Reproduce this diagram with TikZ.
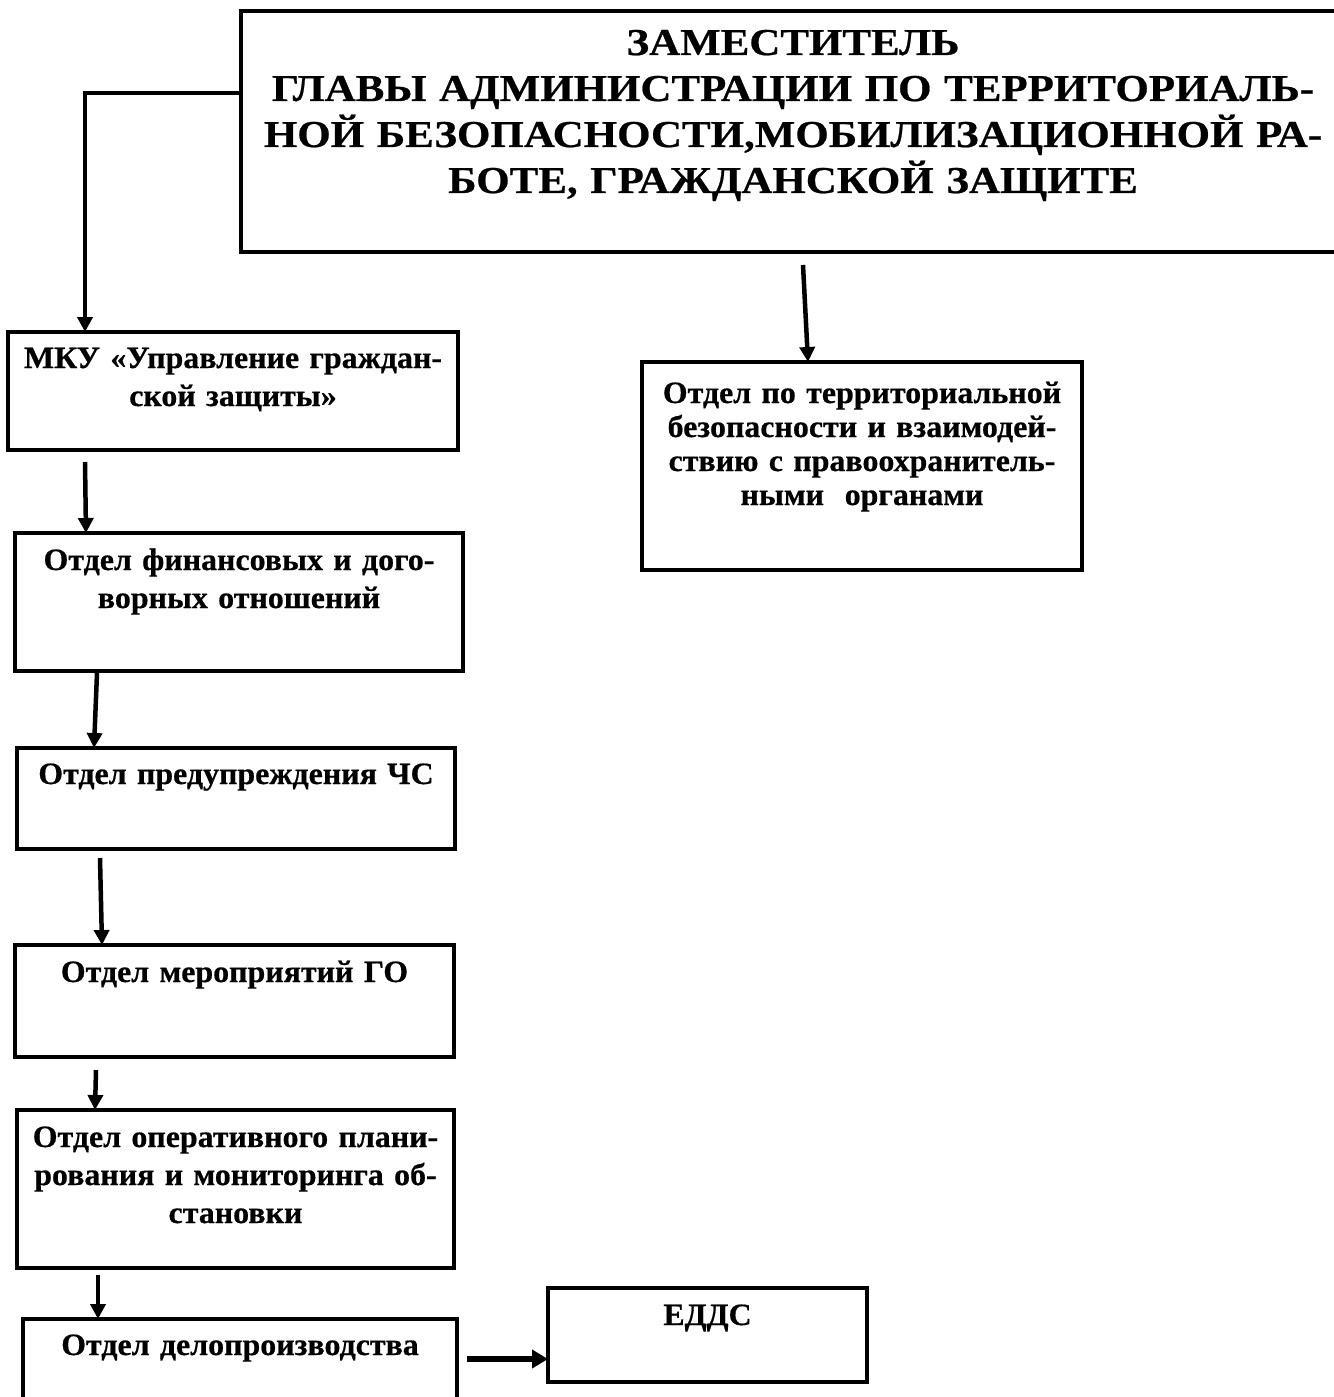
\documentclass[tikz,border=0pt]{standalone}
\usepackage{fontspec}
\setmainfont{Liberation Serif}
\newfontfamily\headfamily[FakeStretch=1.13, FakeBold=0.6]{Liberation Serif}
\newfontfamily\unitfamily[FakeStretch=1.03, FakeBold=0.6]{Liberation Serif}
\newcommand{\headfnt}{\headfamily\bfseries\fontsize{38}{46}\selectfont}
\newcommand{\unitfnt}{\unitfamily\bfseries\fontsize{31}{38}\selectfont}
\newcommand{\terfnt}{\unitfamily\bfseries\fontsize{31}{34}\selectfont}
\usepackage{tikz}
\usetikzlibrary{positioning, arrows.meta}
\tikzstyle{boss} =
[rectangle, draw=black, line width=4pt, text centered, inner sep=0pt,
outer sep=0pt, font=\headfnt]
\tikzstyle{unit} =
[rectangle, draw=black, line width=4pt, text centered, inner sep=0pt,
outer sep=0pt, font=\unitfnt]
\tikzstyle{line} = [draw, line width=4.5pt, -{Triangle[length=15pt, width=15pt]}]
\tikzstyle{thickline} = [draw, line width=6pt, -{Triangle[length=16pt, width=18pt]}]

\begin{document}
\begin{tikzpicture}[x=1pt, y=-1pt]
  \useasboundingbox (0,0) rectangle (1333,1397);
  % 1st level nodes
  \node [boss, anchor=north west, text width=1104pt, text height=44pt,
   text depth=197pt] (boss) at (241,11)
   {ЗАМЕСТИТЕЛЬ\\ ГЛАВЫ АДМИНИСТРАЦИИ ПО ТЕРРИТОРИАЛЬ-\\НОЙ
    БЕЗОПАСНОСТИ,МОБИЛИЗАЦИОННОЙ РА-\\БОТЕ, ГРАЖДАНСКОЙ ЗАЩИТЕ};
  \node [unit, below=80pt of boss.south west, xshift=-8pt, text width=450pt,
   text height=36pt, text depth=82pt] (mku)
   {МКУ «Управление граждан-\\ской защиты»};
  \node [unit, below=110pt of boss.south west, xshift=621pt, text width=440pt,
   text height=41pt, text depth=167pt, font=\terfnt] (terbez)
   {Отдел по территориальной\\безопасности и взаимодей-\\ствию с
    правоохранитель-\\ными\ \ органами};
  % 1st level edges
  \path [line] ([yshift=38.5pt]boss.west) -| ([xshift=-148pt]mku.north);
  \path [line] ([xshift=10pt, yshift=-13pt]boss.south)
   -- ([xshift=-54pt]terbez.north);
  %
  % 2nd level nodes
  \node [unit, below=83pt of mku, xshift=6pt, text width=448pt,
   text height=37pt, text depth=101pt] (finans)
   {Отдел финансовых и дого-\\ворных отношений};
  \node [unit, below=77pt of finans, xshift=-3pt, text width=438pt,
   text height=36pt, text depth=65pt] (preduprezh)
   {Отдел предупреждения ЧС};
  \node [unit, below=96pt of preduprezh, xshift=-1.5pt, text width=439pt,
   text height=37pt, text depth=75pt] (meropr)
   {Отдел мероприятий ГО};
  \node [unit, below=53pt of meropr, xshift=1pt, text width=437pt,
   text height=37pt, text depth=121pt] (operplan)
   {Отдел оперативного плани-\\рования и мониторинга об-\\становки};
  \node [unit, below=51pt of operplan, xshift=4.5pt, text width=434pt,
   text height=36pt, text depth=75pt] (delo)
   {Отдел делопроизводства};
  \node [unit, right=91pt of delo.north east, anchor=north west, yshift=31pt,
   text width=319pt, text height=37pt, text depth=57pt] (edds)
   {ЕДДС};
  % 2nd level edges
  \path [line] ([xshift=-148pt, yshift=-12pt]mku.south)
   -- ([xshift=-153pt]finans.north);
  \path [line] ([xshift=-142pt, yshift=-2pt]finans.south)
   -- ([xshift=-142pt]preduprezh.north);
  \path [line] ([xshift=-136pt, yshift=-9pt]preduprezh.south)
   -- ([xshift=-132.5pt]meropr.north);
  \path [line] ([xshift=-138.5pt, yshift=-13pt]meropr.south)
   -- ([xshift=-140.5pt]operplan.north);
  \path [line] ([xshift=-137.5pt, yshift=-7pt]operplan.south)
   -- ([xshift=-142pt]delo.north);
  \path [thickline] ([xshift=10pt, yshift=-40pt]delo.north east)
   -- ([yshift=-24pt]edds.west);
\end{tikzpicture}
\end{document}
